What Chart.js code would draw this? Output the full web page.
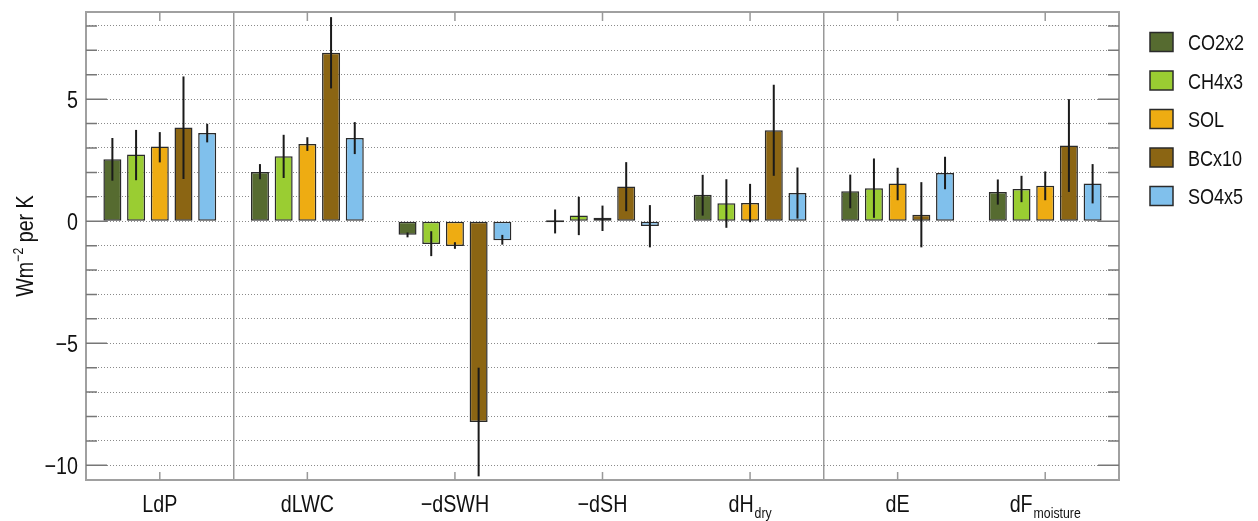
<!DOCTYPE html>
<html><head><meta charset="utf-8">
<script src="https://cdn.jsdelivr.net/npm/chart.js@4.4.1/dist/chart.umd.min.js"></script>
<style>html,body{margin:0;padding:0;background:#fff;overflow:hidden}canvas{display:block}</style>
</head><body>
<canvas id="c" width="1258" height="521"></canvas>
<script>
// ---- data ----
const categories = ['LdP', 'dLWC', '\u2212dSWH', '\u2212dSH', 'dH', 'dE', 'dF'];
const categorySubs = ['', '', '', '', 'dry', '', 'moisture'];
const seriesNames = ['CO2x2', 'CH4x3', 'SOL', 'BCx10', 'SO4x5'];
const seriesColors = ['#566b30', '#9acd32', '#eeac12', '#8b6513', '#80c0ec'];

const co2   = [2.54, 2.02, -0.55, 0.00, 1.08, 1.23, 1.20];
const co2Lo = [1.66, 1.72, -0.66, -0.50, 0.23, 0.53, 0.68];
const co2Hi = [3.41, 2.34, -0.46, 0.48, 1.90, 1.91, 1.71];

const ch4   = [2.73, 2.66, -0.93, 0.23, 0.74, 1.35, 1.32];
const ch4Lo = [1.68, 1.77, -1.43, -0.57, -0.27, 0.14, 0.78];
const ch4Hi = [3.74, 3.54, -0.41, 1.00, 1.72, 2.57, 1.86];

const sol   = [3.06, 3.16, -1.01, 0.14, 0.75, 1.54, 1.45];
const solLo = [2.41, 2.88, -1.13, -0.40, -0.04, 0.86, 0.86];
const solHi = [3.65, 3.44, -0.86, 0.64, 1.53, 2.19, 2.04];

const bc    = [3.84, 6.90, -8.22, 1.42, 3.73, 0.27, 3.10];
const bcLo  = [1.73, 5.44, -10.45, 0.41, 1.86, -1.07, 1.20];
const bcHi  = [5.93, 8.36, -6.00, 2.42, 5.59, 1.60, 5.00];

const so4   = [3.61, 3.41, -0.78, -0.20, 1.16, 1.98, 1.54];
const so4Lo = [3.23, 2.75, -0.96, -1.07, 0.11, 1.31, 0.73];
const so4Hi = [3.99, 4.06, -0.56, 0.66, 2.20, 2.64, 2.34];

const yTickLabels = [-10, -5, 0, 5];
const separatorAfter = [0, 4]; // vertical separators after these category indices

// ---- rendering ----
const FONT = "'Liberation Sans','Arial','Helvetica',sans-serif";
const NARROW = 0.82;
const values = [co2, ch4, sol, bc, so4];
const lows = [co2Lo, ch4Lo, solLo, bcLo, so4Lo];
const highs = [co2Hi, ch4Hi, solHi, bcHi, so4Hi];

const datasets = seriesNames.map((name, k) => ({
  label: name,
  data: values[k],
  errLo: lows[k],
  errHi: highs[k],
  backgroundColor: seriesColors[k],
  borderColor: '#2a2a2a',
  borderWidth: 1.5,
  borderSkipped: false,
  minBarLength: 2,
  categoryPercentage: 0.803,
  barPercentage: 0.76
}));

function measure(ctx, text, size) {
  ctx.font = size + 'px ' + FONT;
  return ctx.measureText(text).width * NARROW;
}
function drawText(ctx, text, x, y, size) { // left-aligned, narrow
  ctx.save();
  ctx.font = size + 'px ' + FONT;
  ctx.translate(x, y);
  ctx.scale(NARROW, 1);
  ctx.fillText(text, 0, 0);
  ctx.restore();
}

const decor = {
  id: 'decor',
  afterDatasetsDraw(chart) {
    const ctx = chart.ctx, y = chart.scales.y;
    ctx.save();
    ctx.strokeStyle = '#1a1a1a';
    ctx.lineWidth = 2;
    chart.data.datasets.forEach((ds, di) => {
      chart.getDatasetMeta(di).data.forEach((bar, i) => {
        ctx.beginPath();
        ctx.moveTo(bar.x, y.getPixelForValue(ds.errLo[i]));
        ctx.lineTo(bar.x, y.getPixelForValue(ds.errHi[i]));
        ctx.stroke();
      });
    });
    ctx.restore();
  },
  afterDraw(chart) {
    const ctx = chart.ctx, x = chart.scales.x, y = chart.scales.y, a = chart.chartArea;
    ctx.save();
    // frame
    ctx.strokeStyle = '#a0a0a0';
    ctx.lineWidth = 2;
    ctx.strokeRect(a.left, a.top, a.right - a.left, a.bottom - a.top);
    // x ticks (inward, top and bottom)
    ctx.strokeStyle = '#999';
    ctx.lineWidth = 1.5;
    categories.forEach((c, i) => {
      const px = x.getPixelForValue(i);
      ctx.beginPath();
      ctx.moveTo(px, a.top); ctx.lineTo(px, a.top + 9);
      ctx.moveTo(px, a.bottom); ctx.lineTo(px, a.bottom - 8);
      ctx.stroke();
    });
    // y ticks (inward, left and right)
    ctx.strokeStyle = '#777';
    y.ticks.forEach(t => {
      const py = y.getPixelForValue(t.value);
      const len = (t.value % 5 === 0) ? 21 : 11;
      ctx.beginPath();
      ctx.moveTo(a.left, py); ctx.lineTo(a.left + len, py);
      ctx.moveTo(a.right, py); ctx.lineTo(a.right - len, py);
      ctx.stroke();
    });
    ctx.fillStyle = '#111';
    ctx.textBaseline = 'alphabetic';
    ctx.textAlign = 'left';
    // y tick labels
    yTickLabels.forEach(v => {
      const s = String(v).replace('-', '\u2212');
      const w = measure(ctx, s, 24);
      drawText(ctx, s, a.left - 8 - w, y.getPixelForValue(v) + 8.5, 24);
    });
    // x labels with subscripts
    categories.forEach((c, i) => {
      const px = x.getPixelForValue(i);
      const w1 = measure(ctx, c, 24);
      const w2 = categorySubs[i] ? measure(ctx, categorySubs[i], 15) + 1 : 0;
      const x0 = px - (w1 + w2) / 2;
      drawText(ctx, c, x0, 512, 24);
      if (categorySubs[i]) drawText(ctx, categorySubs[i], x0 + w1 + 1, 518, 15);
    });
    // y title with superscript
    ctx.save();
    const cy = (a.top + a.bottom) / 2;
    ctx.translate(33, cy);
    ctx.rotate(-Math.PI / 2);
    const p1 = 'Wm', p3 = ' per K', sup = '\u22122';
    const wa = measure(ctx, p1, 24), wc = measure(ctx, p3, 24), wb = measure(ctx, sup, 15);
    let sx = -(wa + wb + wc) / 2;
    drawText(ctx, p1, sx, 0, 24); sx += wa;
    drawText(ctx, sup, sx, -10, 15); sx += wb;
    drawText(ctx, p3, sx, 0, 24);
    ctx.restore();
    // legend
    seriesNames.forEach((n, k) => {
      const cyL = 42 + k * 38.5;
      ctx.fillStyle = seriesColors[k];
      ctx.fillRect(1150, cyL - 9.5, 23, 19);
      ctx.strokeStyle = '#2a2a2a';
      ctx.lineWidth = 1.5;
      ctx.strokeRect(1150, cyL - 9.5, 23, 19);
      ctx.fillStyle = '#111';
      drawText(ctx, n, 1188, cyL + 8, 22);
    });
    ctx.restore();
  }
};

new Chart(document.getElementById('c'), {
  type: 'bar',
  data: { labels: categories, datasets },
  options: {
    responsive: false,
    animation: false,
    devicePixelRatio: 1,
    layout: { padding: { top: 12, right: 139, left: 0, bottom: 0 } },
    plugins: { legend: { display: false }, tooltip: { enabled: false } },
    scales: {
      x: {
        ticks: { display: false },
        grid: {
          offset: true,
          drawTicks: false,
          lineWidth: 1.5,
          color: ctx => separatorAfter.map(s => s + 1).includes(ctx.index) ? '#999' : 'rgba(0,0,0,0)'
        },
        border: { display: false },
        afterFit: s => { s.height = 41; }
      },
      y: {
        min: -10.6,
        max: 8.57,
        ticks: {
          display: false,
          stepSize: 1,
          autoSkip: false,
          includeBounds: false
        },
        grid: { drawTicks: false, color: '#8a8a8a', lineWidth: 1 },
        border: { display: false, dash: [1, 2] },
        afterFit: s => { s.width = 86; }
      }
    }
  },
  plugins: [decor]
});
</script>
</body></html>
